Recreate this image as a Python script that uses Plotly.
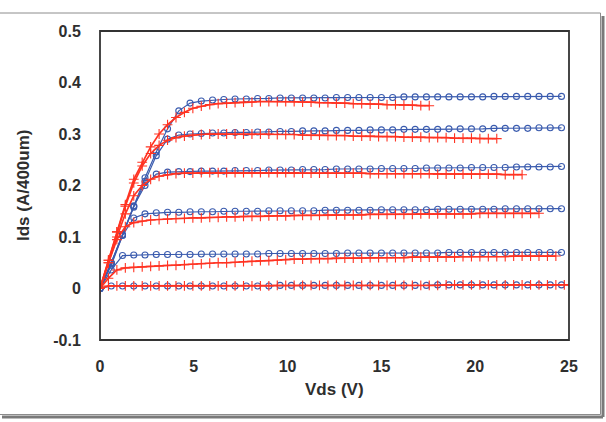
import plotly.graph_objects as go

# ---- data ----
VDS_BLUE = [0, 0.6, 1.2, 1.8, 2.4, 3.0, 3.6, 4.2, 4.8, 5.4, 6.0, 6.6, 7.2, 7.8, 8.4, 9.0,
            9.6, 10.2, 10.8, 11.4, 12.0, 12.6, 13.2, 13.8, 14.4, 15.0, 15.6, 16.2, 16.8,
            17.4, 18.0, 18.6, 19.2, 19.8, 20.4, 21.0, 21.6, 22.2, 22.8, 23.4, 24.0, 24.6]

BLUE_1 = [0, 0.05, 0.105, 0.16, 0.215, 0.265, 0.31, 0.345, 0.36, 0.364, 0.366, 0.367,
          0.368, 0.368, 0.369, 0.369, 0.370, 0.370, 0.370, 0.370, 0.370, 0.371, 0.371,
          0.371, 0.371, 0.371, 0.371, 0.372, 0.372, 0.372, 0.372, 0.372, 0.372, 0.372,
          0.372, 0.373, 0.373, 0.373, 0.373, 0.373, 0.373, 0.373]
BLUE_2 = [0, 0.05, 0.104, 0.158, 0.208, 0.258, 0.29, 0.298, 0.300, 0.301, 0.302, 0.302,
          0.303, 0.303, 0.304, 0.304, 0.305, 0.305, 0.306, 0.306, 0.306, 0.307, 0.307,
          0.307, 0.308, 0.308, 0.308, 0.309, 0.309, 0.309, 0.309, 0.310, 0.310, 0.310,
          0.310, 0.311, 0.311, 0.311, 0.311, 0.312, 0.312, 0.312]
BLUE_3 = [0, 0.048, 0.104, 0.16, 0.2, 0.222, 0.226, 0.227, 0.227, 0.228, 0.228, 0.228,
          0.229, 0.229, 0.229, 0.230, 0.230, 0.230, 0.231, 0.231, 0.231, 0.232, 0.232,
          0.232, 0.232, 0.233, 0.233, 0.233, 0.233, 0.234, 0.234, 0.234, 0.234, 0.235,
          0.235, 0.235, 0.235, 0.236, 0.236, 0.236, 0.236, 0.237]
BLUE_4 = [0, 0.045, 0.103, 0.137, 0.145, 0.147, 0.148, 0.148, 0.149, 0.149, 0.149, 0.150,
          0.150, 0.150, 0.150, 0.151, 0.151, 0.151, 0.151, 0.151, 0.152, 0.152, 0.152,
          0.152, 0.152, 0.153, 0.153, 0.153, 0.153, 0.153, 0.154, 0.154, 0.154, 0.154,
          0.154, 0.154, 0.155, 0.155, 0.155, 0.155, 0.155, 0.155]
BLUE_5 = [0, 0.036, 0.064, 0.065, 0.065, 0.066, 0.066, 0.066, 0.066, 0.067, 0.067, 0.067,
          0.067, 0.067, 0.067, 0.068, 0.068, 0.068, 0.068, 0.068, 0.068, 0.068, 0.069,
          0.069, 0.069, 0.069, 0.069, 0.069, 0.069, 0.069, 0.069, 0.070, 0.070, 0.070,
          0.070, 0.070, 0.070, 0.070, 0.070, 0.070, 0.070, 0.070]
BLUE_6 = [0, 0.005, 0.005, 0.005, 0.005, 0.005, 0.005, 0.005, 0.005, 0.005, 0.005, 0.005,
          0.005, 0.005, 0.005, 0.005, 0.006, 0.006, 0.006, 0.006, 0.006, 0.006, 0.006,
          0.006, 0.006, 0.006, 0.006, 0.006, 0.006, 0.006, 0.007, 0.007, 0.007, 0.007,
          0.007, 0.007, 0.007, 0.007, 0.007, 0.007, 0.007, 0.007]

VDS_RED = [0, 0.45, 0.9, 1.35, 1.8, 2.25, 2.7, 3.15, 3.6, 4.05, 4.5, 4.95, 5.4, 5.85, 6.3,
           6.75, 7.2, 7.65, 8.1, 8.55, 9.0, 9.45, 9.9, 10.35, 10.8, 11.25, 11.7, 12.15,
           12.6, 13.05, 13.5, 13.95, 14.4, 14.85, 15.3, 15.75, 16.2, 16.65, 17.1, 17.55,
           18.0, 18.45, 18.9, 19.35, 19.8, 20.25, 20.7, 21.15, 21.6, 22.05, 22.5, 22.95,
           23.4, 23.85, 24.3, 24.75, 25.2]

RED_1 = [0, 0.055, 0.11, 0.163, 0.212, 0.245, 0.275, 0.3, 0.318, 0.332, 0.342, 0.35,
         0.354, 0.357, 0.359, 0.36, 0.361, 0.362, 0.362, 0.363, 0.363, 0.363, 0.363,
         0.363, 0.362, 0.362, 0.361, 0.361, 0.36, 0.36, 0.359, 0.359, 0.358, 0.358,
         0.357, 0.357, 0.356, 0.356, 0.355, 0.355]
RED_2 = [0, 0.055, 0.11, 0.16, 0.205, 0.238, 0.262, 0.278, 0.288, 0.293, 0.296, 0.298,
         0.299, 0.300, 0.300, 0.300, 0.300, 0.300, 0.300, 0.300, 0.300, 0.299, 0.299,
         0.299, 0.298, 0.298, 0.298, 0.297, 0.297, 0.297, 0.296, 0.296, 0.296, 0.295,
         0.295, 0.295, 0.294, 0.294, 0.294, 0.293, 0.293, 0.293, 0.292, 0.292, 0.292,
         0.291, 0.291, 0.291]
RED_3 = [0, 0.05, 0.1, 0.145, 0.18, 0.2, 0.212, 0.218, 0.221, 0.223, 0.224, 0.224,
         0.225, 0.225, 0.225, 0.225, 0.225, 0.225, 0.225, 0.225, 0.225, 0.225, 0.225,
         0.225, 0.224, 0.224, 0.224, 0.224, 0.224, 0.224, 0.224, 0.224, 0.223, 0.223,
         0.223, 0.223, 0.223, 0.223, 0.223, 0.223, 0.222, 0.222, 0.222, 0.222, 0.222,
         0.222, 0.222, 0.222, 0.221, 0.221, 0.221]
RED_4 = [0, 0.05, 0.095, 0.12, 0.128, 0.131, 0.133, 0.134, 0.135, 0.136, 0.136, 0.137,
         0.137, 0.138, 0.138, 0.139, 0.139, 0.140, 0.140, 0.140, 0.141, 0.141, 0.141,
         0.142, 0.142, 0.142, 0.142, 0.143, 0.143, 0.143, 0.143, 0.143, 0.144, 0.144,
         0.144, 0.144, 0.144, 0.144, 0.145, 0.145, 0.145, 0.145, 0.145, 0.145, 0.145,
         0.146, 0.146, 0.146, 0.146, 0.146, 0.146, 0.146, 0.146]
RED_5 = [0, 0.02, 0.036, 0.04, 0.041, 0.042, 0.043, 0.044, 0.045, 0.045, 0.046, 0.047,
         0.048, 0.049, 0.05, 0.05, 0.051, 0.052, 0.053, 0.054, 0.054, 0.055, 0.056,
         0.057, 0.057, 0.058, 0.058, 0.058, 0.059, 0.059, 0.059, 0.059, 0.06, 0.06,
         0.06, 0.06, 0.06, 0.061, 0.061, 0.061, 0.061, 0.061, 0.061, 0.062, 0.062,
         0.062, 0.062, 0.062, 0.062, 0.063, 0.063, 0.063, 0.063, 0.063, 0.063]
RED_6 = [0, 0.005, 0.005, 0.005, 0.005, 0.005, 0.005, 0.005, 0.005, 0.005, 0.005, 0.005,
         0.005, 0.005, 0.005, 0.005, 0.005, 0.005, 0.005, 0.005, 0.005, 0.006, 0.006,
         0.006, 0.006, 0.006, 0.006, 0.006, 0.006, 0.006, 0.006, 0.006, 0.006, 0.006,
         0.006, 0.006, 0.006, 0.006, 0.006, 0.006, 0.006, 0.007, 0.007, 0.007, 0.007,
         0.007, 0.007, 0.007, 0.007, 0.007, 0.007, 0.007, 0.007, 0.007, 0.007, 0.007,
         0.007]

X_TICKS = [0, 5, 10, 15, 20, 25]
Y_TICKS = [-0.1, 0, 0.1, 0.2, 0.3, 0.4, 0.5]
Y_TICK_TEXT = ["-0.1", "0", "0.1", "0.2", "0.3", "0.4", "0.5"]

BLUE = "#3A5BAE"
RED = "#FF3322"
FONT = "Liberation Sans"
TXT = "#2e2e2e"

fig = go.Figure()

for ys in [BLUE_1, BLUE_2, BLUE_3, BLUE_4, BLUE_5, BLUE_6]:
    fig.add_trace(go.Scatter(
        x=VDS_BLUE[:len(ys)], y=ys, mode="lines+markers",
        line=dict(color=BLUE, width=1.2),
        marker=dict(symbol="circle-open", size=6, color=BLUE, line=dict(width=1.1, color=BLUE)),
        showlegend=False))

for ys in [RED_1, RED_2, RED_3, RED_4, RED_5, RED_6]:
    fig.add_trace(go.Scatter(
        x=VDS_RED[:len(ys)], y=ys, mode="lines+markers",
        line=dict(color=RED, width=1.7),
        marker=dict(symbol="cross-thin", size=7, color=RED, line=dict(width=1.1, color=RED)),
        showlegend=False))

# plot-area pixel geometry: x 100..569, y 31..340
L, R, T, B = 100, 569, 31, 340
W, H = 606, 422
pw, ph = R - L, B - T

def px(xp):
    return (xp - L) / pw

def py(yp):
    return (B - yp) / ph

shapes = [
    dict(type="line", xref="paper", yref="paper", x0=px(603), x1=px(603), y0=py(16), y1=py(417),
         line=dict(color="#7a7a7a", width=3), layer="below"),
    dict(type="line", xref="paper", yref="paper", x0=px(2), x1=px(603), y0=py(417), y1=py(417),
         line=dict(color="#7a7a7a", width=3), layer="below"),
    dict(type="rect", xref="paper", yref="paper", x0=px(-3), x1=px(600.5), y0=py(414.5), y1=py(13),
         line=dict(color="#8c8c8c", width=1), fillcolor="white", layer="below"),
    dict(type="rect", xref="paper", yref="paper", x0=0, x1=1, y0=0, y1=1,
         line=dict(color="#333333", width=1.8), layer="above"),
]

fig.update_layout(
    width=W, height=H,
    margin=dict(l=L, r=W - R, t=T, b=H - B),
    paper_bgcolor="white", plot_bgcolor="white",
    shapes=shapes,
    font=dict(family=FONT, size=16, color=TXT),
    annotations=[
        dict(text="<b>Vds (V)</b>", xref="paper", yref="paper", x=0.5, y=py(389),
             showarrow=False, xanchor="center", yanchor="middle",
             font=dict(family=FONT, size=17, color=TXT)),
        dict(text="<b>Ids (A/400um)</b>", xref="paper", yref="paper", x=px(24), y=py(186),
             showarrow=False, xanchor="center", yanchor="middle", textangle=-90,
             font=dict(family=FONT, size=17, color=TXT)),
    ],
)

fig.update_xaxes(range=[0, 25], tickvals=X_TICKS, ticktext=[f"<b>{v}</b>" for v in X_TICKS],
                 showgrid=False, zeroline=False, showline=False,
                 ticks="outside", ticklen=12, tickcolor="rgba(0,0,0,0)",
                 tickfont=dict(family=FONT, size=16, color=TXT))
fig.update_yaxes(range=[-0.1, 0.5], tickvals=Y_TICKS, ticktext=[f"<b>{t}</b>" for t in Y_TICK_TEXT],
                 showgrid=False, zeroline=False, showline=False,
                 ticks="outside", ticklen=15, tickcolor="rgba(0,0,0,0)",
                 tickfont=dict(family=FONT, size=16, color=TXT))

fig.write_html("out.html")
